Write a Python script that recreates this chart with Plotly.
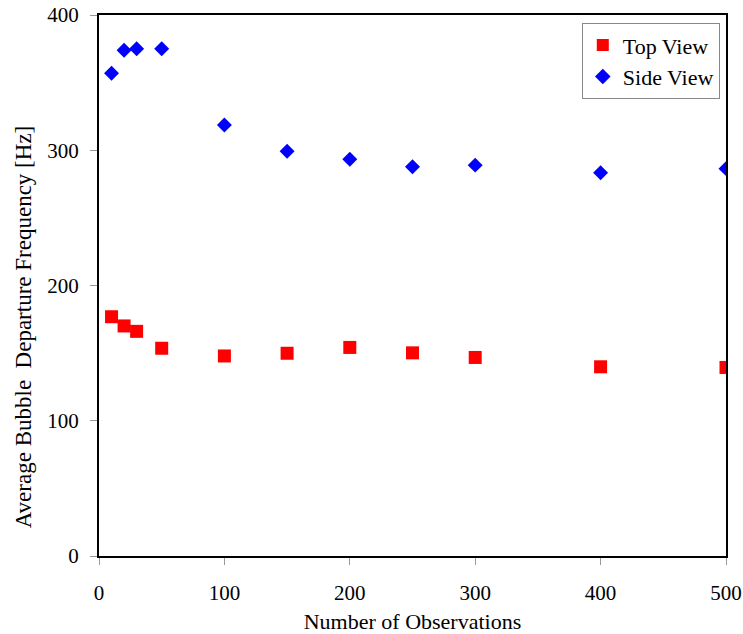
import plotly.graph_objects as go

observations = [10, 20, 30, 50, 100, 150, 200, 250, 300, 400, 500]
top_view = [176.9, 170.1, 166.1, 153.6, 147.9, 149.9, 154.2, 150.2, 146.8, 139.9, 139.4]
side_view = [357.0, 374.0, 375.0, 375.0, 318.7, 299.2, 293.4, 287.8, 289.0, 283.3, 286.4]
x_ticks = [0, 100, 200, 300, 400, 500]
y_ticks = [0, 100, 200, 300, 400]

font_family = "Liberation Serif, Times New Roman, serif"
y_title = "Average Bubble\u00a0 Departure Frequency [Hz]"

fig = go.Figure()
fig.add_trace(go.Scatter(
    x=observations, y=top_view, mode="markers", name="Top View",
    marker=dict(symbol="square", size=13, color="#ff0000", line=dict(width=0)),
))
fig.add_trace(go.Scatter(
    x=observations, y=side_view, mode="markers", name="Side View",
    marker=dict(symbol="diamond", size=11.5, color="#0000ff", line=dict(width=0)),
))

axis_common = dict(
    showgrid=False, zeroline=False, showline=True, linecolor="black", linewidth=2,
    mirror=True, ticks="outside", ticklen=7, tickcolor="#999999", tickwidth=1,
    tickfont=dict(family=font_family, size=21, color="black"),
    automargin=False,
)

fig.update_layout(
    width=743, height=634,
    margin=dict(l=99, r=17, t=15, b=78),
    paper_bgcolor="white", plot_bgcolor="white",
    font=dict(family=font_family, size=22, color="black"),
    xaxis=dict(range=[0, 500], tickvals=x_ticks, ticklabelstandoff=10,
               title=dict(text="Number of Observations", font=dict(size=22), standoff=14),
               **axis_common),
    yaxis=dict(range=[0, 400], tickvals=y_ticks, ticklabelstandoff=7,
               **axis_common),
    legend=dict(x=0.77, y=0.985, xanchor="left", yanchor="top",
                bordercolor="#888888", borderwidth=1, bgcolor="white",
                font=dict(family=font_family, size=22),
                itemsizing="constant", tracegroupgap=0, itemwidth=30),
    showlegend=True,
)

# vertical axis title, placed as a rotated annotation
fig.add_annotation(
    text=y_title, textangle=-90, showarrow=False,
    xref="paper", yref="paper", x=-0.121, y=0.423,
    xanchor="center", yanchor="middle",
    font=dict(family=font_family, size=23, color="black"),
)

fig.write_html("out.html")
